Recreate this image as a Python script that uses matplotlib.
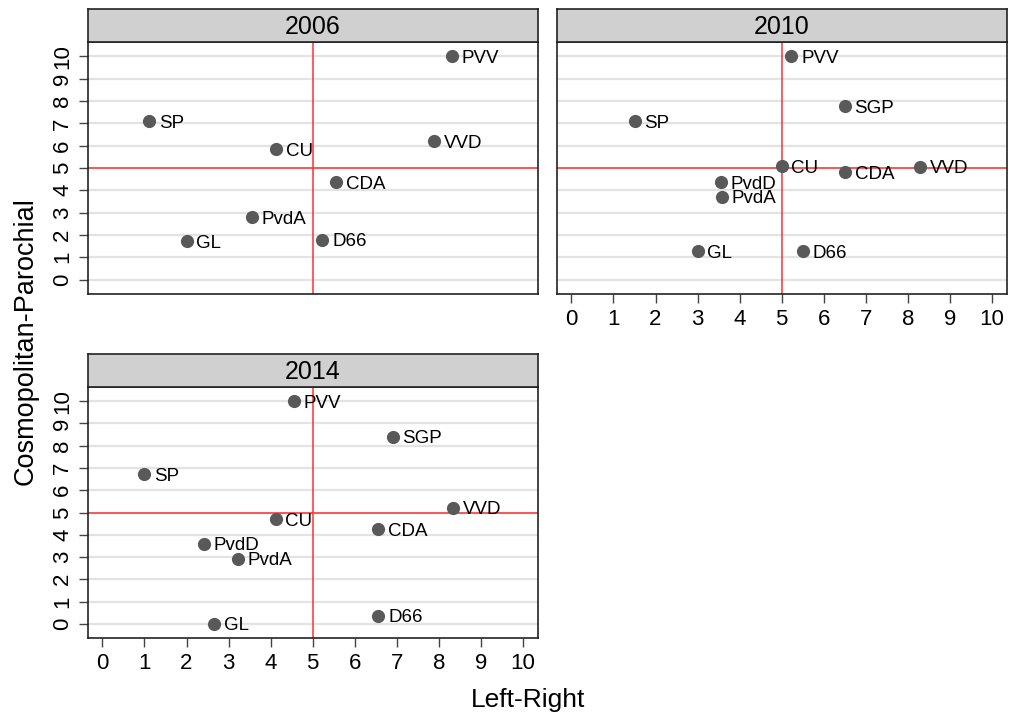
import matplotlib
matplotlib.use("Agg")
import matplotlib.pyplot as plt

plt.rcParams['font.family'] = ['Liberation Sans', 'DejaVu Sans']

# ---- data ----
parties_2006 = ["PVV", "SP", "CU", "VVD", "CDA", "PvdA", "GL", "D66"]
lr_2006 = [8.31, 1.11, 4.13, 7.89, 5.56, 3.56, 2.00, 5.23]
cp_2006 = [10.0, 7.10, 5.84, 6.20, 4.35, 2.80, 1.73, 1.78]

parties_2010 = ["PVV", "SGP", "SP", "CU", "CDA", "VVD", "PvdD", "PvdA", "GL", "D66"]
lr_2010 = [5.23, 6.50, 1.50, 5.00, 6.50, 8.29, 3.56, 3.57, 3.00, 5.50]
cp_2010 = [10.0, 7.76, 7.09, 5.07, 4.80, 5.05, 4.36, 3.71, 1.26, 1.26]

parties_2014 = ["PVV", "SGP", "SP", "VVD", "CU", "CDA", "PvdD", "PvdA", "GL", "D66"]
lr_2014 = [4.55, 6.90, 1.00, 8.34, 4.12, 6.56, 2.42, 3.22, 2.66, 6.56]
cp_2014 = [10.0, 8.40, 6.73, 5.22, 4.70, 4.25, 3.60, 2.93, 0.01, 0.36]

years = ["2006", "2010", "2014"]
ticks = list(range(0, 11))
ref_x = 5
ref_y = 5

W, H = 1009, 718
fig = plt.figure(figsize=(W / 100, H / 100), dpi=100)


def add_px_axes(left, top, right, bottom):
    return fig.add_axes([left / W, 1 - bottom / H, (right - left) / W, (bottom - top) / H])


def panel(left, top, right, bottom, strip_top, title, xs, ys, names, show_x, show_y):
    ax = add_px_axes(left, top, right, bottom)
    ax.set_xlim(-0.35, 10.35)
    ax.set_ylim(-0.65, 10.65)
    ax.set_yticks(ticks)
    ax.set_xticks(ticks)
    for t in ticks:
        ax.axhline(t, color="#e3e3e3", lw=1.6, zorder=0)
    ax.axvline(ref_x, color="#ff3030", lw=1.1, zorder=1)
    ax.axhline(ref_y, color="#ff3030", lw=1.1, zorder=1)
    ax.plot(xs, ys, "o", color="#595959", ms=9.5, zorder=3, mec="none")
    for x, y, n in zip(xs, ys, names):
        ax.annotate(n, (x, y), xytext=(7, -1.5), textcoords="offset points",
                    va="center", ha="left", fontsize=13.5, color="black", zorder=4)
    for s in ax.spines.values():
        s.set_color("#222222")
        s.set_linewidth(1.2)
    ax.tick_params(axis="both", direction="out", length=6.5, width=1.0,
                   color="#444444", labelsize=16)
    ax.tick_params(axis="y", labelrotation=90, pad=4)
    ax.tick_params(axis="x", pad=4)
    for lab in ax.get_yticklabels():
        lab.set_va("center")
    if not show_x:
        ax.tick_params(axis="x", bottom=False, labelbottom=False)
    if not show_y:
        ax.tick_params(axis="y", left=False, labelleft=False)
    # strip
    sax = add_px_axes(left, strip_top, right, top)
    sax.set_facecolor("#d0d0d0")
    sax.set_xticks([])
    sax.set_yticks([])
    for s in sax.spines.values():
        s.set_color("#222222")
        s.set_linewidth(1.2)
    sax.text(0.5, 0.45, title, ha="center", va="center", fontsize=18,
             transform=sax.transAxes)
    return ax


panel(87.7, 42, 537.7, 294, 9, years[0], lr_2006, cp_2006, parties_2006, False, True)
panel(556.7, 42, 1006.7, 294, 9, years[1], lr_2010, cp_2010, parties_2010, True, False)
panel(87.7, 386.7, 537.7, 638.3, 354, years[2], lr_2014, cp_2014, parties_2014, True, True)

fig.text(528 / W, 1 - 700 / H, "Left-Right", ha="center", va="center", fontsize=19)
fig.text(26 / W, 1 - 341 / H, "Cosmopolitan-Parochial", ha="center", va="center",
         rotation=90, fontsize=19.5)

fig.savefig("out.png", dpi=100)
